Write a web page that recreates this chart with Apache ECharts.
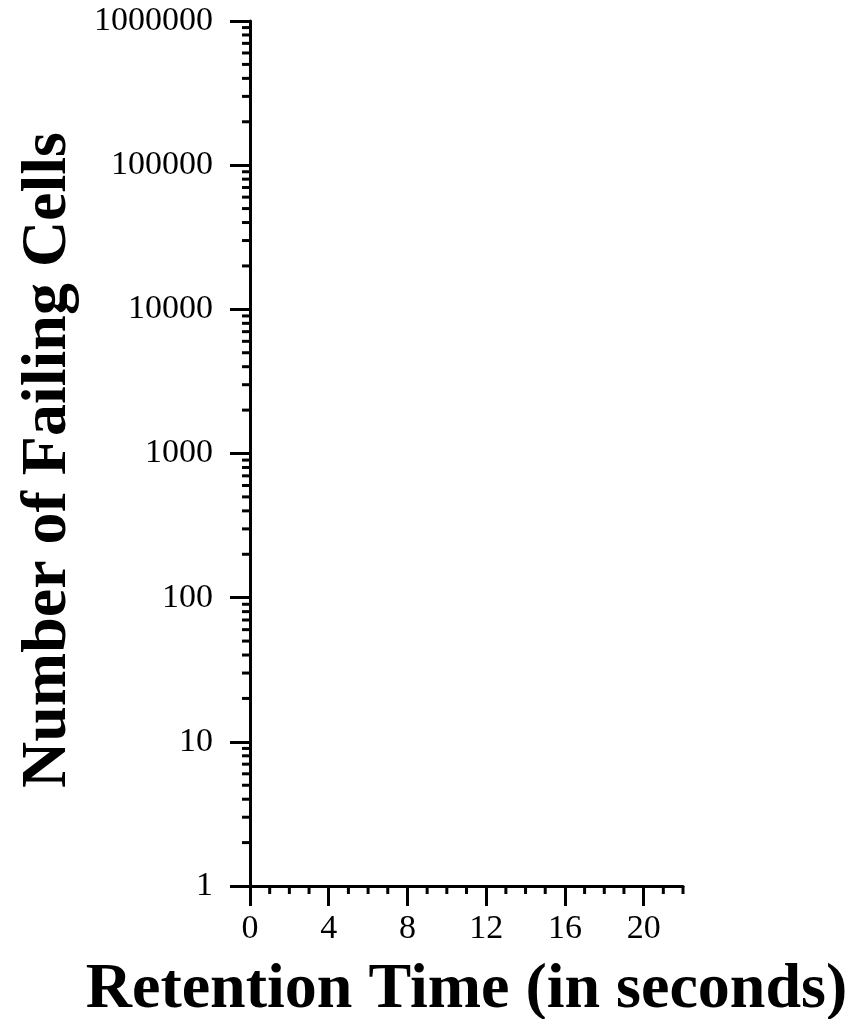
<!DOCTYPE html>
<html>
<head>
<meta charset="utf-8">
<title>Retention Time</title>
<script src="https://cdn.jsdelivr.net/npm/echarts@6/dist/echarts.min.js"></script>
<style>
  html, body { margin: 0; padding: 0; background: #fff; }
  #container { width: 853px; height: 1019px; }
</style>
</head>
<body>
<div id="container"></div>
<script>
// axis ticks (the chart itself has no plotted series)
var xMajorTicks = [0, 4, 8, 12, 16, 20];
var yMajorTicks = [1, 10, 100, 1000, 10000, 100000, 1000000];
var xMinorTicks = [1, 2, 3, 5, 6, 7, 9, 10, 11, 13, 14, 15, 17, 18, 19, 21, 22];
var yMinorSteps = [2, 3, 4, 5, 6, 7, 8, 9];

var yMinorTicks = [];
yMajorTicks.slice(0, -1).forEach(function (decade) {
    yMinorSteps.forEach(function (k) {
        yMinorTicks.push(decade * k);
    });
});

var font = '"Liberation Serif", "Times New Roman", serif';
var lineW = 3;

var dom = document.getElementById('container');
var myChart = echarts.init(dom, null, { renderer: 'canvas' });

function tickRenderer(dir) {
    return function (params, api) {
        var p = api.coord([api.value(0), api.value(1)]);
        var end = dir === 'x' ? [p[0], p[1] + 8] : [p[0] - 8, p[1]];
        return {
            type: 'line',
            shape: { x1: p[0], y1: p[1], x2: end[0], y2: end[1] },
            style: { stroke: '#000', lineWidth: lineW }
        };
    };
}

var option = {
    animation: false,
    grid: { left: 250, top: 21, right: 170, bottom: 133, containLabel: false, outerBoundsMode: 'none' },
    xAxis: {
        type: 'value',
        min: 0,
        max: 22,
        name: 'Retention Time (in seconds)',
        nameLocation: 'middle',
        nameGap: 72,
        nameTextStyle: { fontFamily: font, fontSize: 64, fontWeight: 'bold', color: '#000' },
        axisLine: { onZero: false, lineStyle: { color: '#000', width: lineW } },
        axisTick: { customValues: xMajorTicks, length: 20, lineStyle: { color: '#000', width: lineW } },
        axisLabel: { customValues: xMajorTicks, margin: 26, fontFamily: font, fontSize: 34, color: '#000' },
        splitLine: { show: false }
    },
    yAxis: {
        type: 'log',
        logBase: 10,
        min: 1,
        max: 1000000,
        name: 'Number of Failing Cells',
        nameLocation: 'middle',
        nameGap: 170,
        nameTextStyle: {
            fontFamily: font, fontSize: 64, fontWeight: 'bold', color: '#000',
            padding: [0, 13, 0, 0]
        },
        axisLine: { show: true, lineStyle: { color: '#000', width: lineW } },
        axisTick: { show: true, customValues: yMajorTicks, length: 20, lineStyle: { color: '#000', width: lineW } },
        axisLabel: {
            customValues: yMajorTicks,
            margin: 37,
            fontFamily: font,
            fontSize: 34,
            color: '#000',
            formatter: function (v) { return String(Math.round(v)); }
        },
        splitLine: { show: false }
    },
    series: [
        {
            type: 'custom',
            silent: true,
            clip: false,
            renderItem: tickRenderer('y'),
            data: yMinorTicks.map(function (v) { return [0, v]; })
        },
        {
            type: 'custom',
            silent: true,
            clip: false,
            renderItem: tickRenderer('x'),
            data: xMinorTicks.map(function (v) { return [v, 1]; })
        }
    ]
};

myChart.setOption(option);
window.addEventListener('resize', myChart.resize);
</script>
</body>
</html>
